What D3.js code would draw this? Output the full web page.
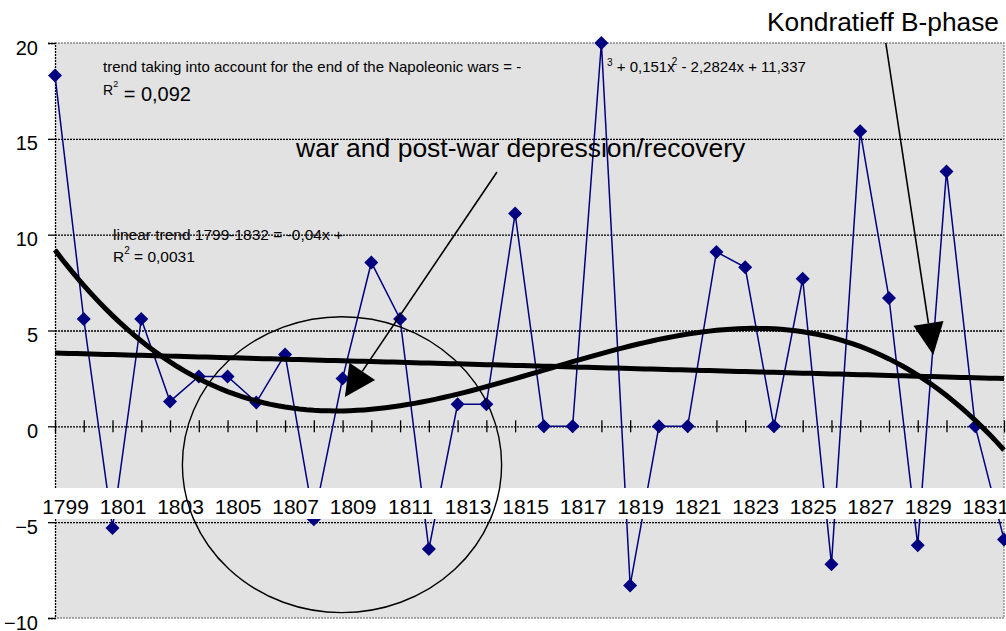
<!DOCTYPE html>
<html>
<head>
<meta charset="utf-8">
<script src="https://cdn.jsdelivr.net/npm/d3@7"></script>
<style>
body { margin: 0; background: #fff; }
svg { display: block; font-family: "Liberation Sans", Arial, sans-serif; }
</style>
</head>
<body>
<svg width="1006" height="631"></svg>
<script>
// data
var years = [1799, 1800, 1801, 1802, 1803, 1804, 1805, 1806, 1807, 1808, 1809, 1810,
             1811, 1812, 1813, 1814, 1815, 1816, 1817, 1818, 1819, 1820, 1821, 1822,
             1823, 1824, 1825, 1826, 1827, 1828, 1829, 1830, 1831, 1832];
var values = [18.3, 5.6, -5.3, 5.6, 1.3, 2.6, 2.6, 1.25, 3.75, -4.85, 2.5, 8.55,
              5.6, -6.4, 1.15, 1.15, 11.1, 0, 0, 20, -8.3, 0, 0, 9.1,
              8.3, 0, 7.7, -7.2, 15.4, 6.7, -6.2, 13.3, 0, -5.9];
var yearLabels = [1799, 1801, 1803, 1805, 1807, 1809, 1811, 1813, 1815,
                  1817, 1819, 1821, 1823, 1825, 1827, 1829, 1831];
var yTicks = [-10, -5, 0, 5, 10, 15, 20];

var svg = d3.select('svg');
var plot = {l: 55, r: 1004, t: 43, b: 618};

var xScale = d3.scaleLinear().domain([1799, 1832]).range([plot.l, plot.r]);
var yScale = d3.scaleLinear().domain([-10, 20]).range([plot.b, plot.t]);

// least squares polynomial, x = 1..n like the spreadsheet trendline
function polyFit(xs, ys, deg) {
	var n = deg + 1;
	var A = [];
	for (var i = 0; i < n; i++) {
		A[i] = [];
		for (var j = 0; j < n; j++) {
			A[i][j] = d3.sum(xs, function(x) { return Math.pow(x, i + j); });
		}
		A[i][n] = d3.sum(xs, function(x, k) { return Math.pow(x, i) * ys[k]; });
	}
	for (var c = 0; c < n; c++) {
		var p = c;
		for (var r = c + 1; r < n; r++) if (Math.abs(A[r][c]) > Math.abs(A[p][c])) p = r;
		var tmp = A[c]; A[c] = A[p]; A[p] = tmp;
		for (var r2 = 0; r2 < n; r2++) {
			if (r2 === c) continue;
			var f = A[r2][c] / A[c][c];
			for (var k = c; k <= n; k++) A[r2][k] -= f * A[c][k];
		}
	}
	var coef = [];
	for (var q = 0; q < n; q++) coef[q] = A[q][n] / A[q][q];
	return function(x) {
		var s = 0;
		for (var m = 0; m < n; m++) s += coef[m] * Math.pow(x, m);
		return s;
	};
}

var idx = years.map(function(d, i) { return i + 1; });
var linFit = polyFit(idx, values, 1);
var cubFit = polyFit(idx, values, 3);

// plot background
svg.append('rect')
	.attr('x', plot.l).attr('y', plot.t)
	.attr('width', plot.r - plot.l).attr('height', plot.b - plot.t)
	.attr('fill', '#e2e2e2');

// gridlines
var grid = svg.append('g')
	.attr('transform', 'translate(' + plot.l + ',0)')
	.call(d3.axisLeft(yScale).tickValues([-5, 0, 5, 10, 15]).tickSize(-(plot.r - plot.l)).tickFormat(''));
grid.select('.domain').remove();
grid.selectAll('line').attr('stroke', '#000').attr('stroke-width', 1.3).attr('stroke-dasharray', '2,1');

// border top / right / bottom
svg.append('path')
	.attr('d', 'M' + plot.l + ',' + plot.t + 'H' + plot.r + 'V' + plot.b + 'H' + plot.l)
	.attr('fill', 'none').attr('stroke', '#8a8a8a').attr('stroke-width', 1.3).attr('stroke-dasharray', '2,1');

// y axis
var yAxis = svg.append('g')
	.attr('transform', 'translate(' + plot.l + ',0)')
	.call(d3.axisLeft(yScale).tickValues(yTicks).tickSize(7).tickPadding(10));
yAxis.select('.domain').attr('stroke', '#000').attr('stroke-width', 1.3).attr('stroke-dasharray', '2,1');
yAxis.selectAll('line').attr('stroke', '#000').attr('stroke-width', 1.3);
yAxis.selectAll('text').attr('font-size', 20).attr('fill', '#000').attr('font-family', null).attr('dy', '0.55em');

// category ticks crossing the zero line
var xTicks = svg.append('g')
	.attr('transform', 'translate(0,' + (yScale(0) - 6) + ')')
	.call(d3.axisBottom(xScale).tickValues(years).tickSize(12).tickFormat(''));
xTicks.select('.domain').remove();
xTicks.selectAll('line').attr('stroke', '#000').attr('stroke-width', 1.3);

// data series
var line = d3.line()
	.x(function(d, i) { return xScale(years[i]); })
	.y(function(d) { return yScale(d); });

svg.append('path')
	.datum(values)
	.attr('d', line)
	.attr('fill', 'none')
	.attr('stroke', '#000080')
	.attr('stroke-width', 1.5);

svg.selectAll('.marker')
	.data(values)
	.enter().append('path')
	.attr('class', 'marker')
	.attr('d', 'M0,-7L7,0L0,7L-7,0Z')
	.attr('transform', function(d, i) { return 'translate(' + xScale(years[i]) + ',' + yScale(d) + ')'; })
	.attr('fill', '#000080');

// trendlines
var steps = d3.range(1, years.length + 0.001, 0.25);

svg.append('path')
	.attr('d', d3.line().x(function(d) { return xScale(1798 + d); }).y(function(d) { return yScale(linFit(d)); })(steps))
	.attr('fill', 'none').attr('stroke', '#000').attr('stroke-width', 5);

svg.append('path')
	.attr('d', d3.line().x(function(d) { return xScale(1798 + d); }).y(function(d) { return yScale(cubFit(d)); })(steps))
	.attr('fill', 'none').attr('stroke', '#000').attr('stroke-width', 5);

// white band behind the year labels
svg.append('rect')
	.attr('x', 50).attr('y', 488).attr('width', 956).attr('height', 31)
	.attr('fill', '#fff');

var xAxis = svg.append('g')
	.attr('transform', 'translate(0,514)')
	.call(d3.axisBottom(xScale).tickValues(yearLabels).tickSize(0).tickFormat(d3.format('d')));
xAxis.select('.domain').remove();
xAxis.selectAll('text')
	.attr('font-size', 21).attr('font-family', null).attr('fill', '#000')
	.attr('y', 0).attr('dy', 0).attr('x', 10);

// annotations
svg.append('ellipse')
	.attr('cx', xScale(1808.98)).attr('cy', yScale(-2.0))
	.attr('rx', xScale(1799 + 5.55) - xScale(1799))
	.attr('ry', yScale(0) - yScale(7.72))
	.attr('fill', 'none').attr('stroke', '#000').attr('stroke-width', 1.4);

function arrow(x1, y1, x2, y2, len, half) {
	var ax = xScale(x1), ay = yScale(y1), bx = xScale(x2), by = yScale(y2);
	var dx = bx - ax, dy = by - ay, L = Math.sqrt(dx * dx + dy * dy);
	var ux = dx / L, uy = dy / L;
	var mx = bx - ux * len, my = by - uy * len;
	svg.append('line')
		.attr('x1', ax).attr('y1', ay).attr('x2', mx).attr('y2', my)
		.attr('stroke', '#000').attr('stroke-width', 1.6);
	svg.append('path')
		.attr('d', 'M' + bx + ',' + by + 'L' + (mx - uy * half) + ',' + (my + ux * half) +
			'L' + (mx + uy * half) + ',' + (my - ux * half) + 'Z')
		.attr('fill', '#000');
}
arrow(1814.37, 13.27, 1809.08, 1.53, 31, 15.5);
arrow(1827.89, 20, 1829.54, 3.72, 32, 15.2);

var t1 = svg.append('text').attr('x', 103).attr('y', 72).attr('font-size', 15).attr('fill', '#000');
t1.text('trend taking into account for the end of the Napoleonic wars = -');

var t2 = svg.append('text').attr('x', 607).attr('y', 72).attr('font-size', 15).attr('fill', '#000');
t2.append('tspan').attr('font-size', 10).attr('dy', -6).text('3');
t2.append('tspan').attr('dy', 6).text(' + 0,151x');
t2.append('tspan').attr('font-size', 10).attr('dy', -7).attr('dx', -3).text('2');
t2.append('tspan').attr('dy', 7).text(' - 2,2824x + 11,337');

var r1 = svg.append('text').attr('x', 103).attr('y', 95).attr('fill', '#000');
r1.append('tspan').attr('font-size', 14).text('R');
r1.append('tspan').attr('font-size', 9).attr('dy', -8).text('2');
r1.append('tspan').attr('font-size', 20).attr('dy', 14).text(' = 0,092');

svg.append('text').attr('x', 113).attr('y', 240).attr('font-size', 15.5).attr('fill', '#000')
	.text('linear trend 1799-1832 = -0,04x +');

var r2 = svg.append('text').attr('x', 113).attr('y', 262).attr('fill', '#000').attr('font-size', 15.5);
r2.append('tspan').text('R');
r2.append('tspan').attr('font-size', 10).attr('dy', -8).text('2');
r2.append('tspan').attr('dy', 8).text(' = 0,0031');

svg.append('text').attr('x', 296).attr('y', 157).attr('font-size', 26.5).attr('fill', '#000')
	.text('war and post-war depression/recovery');

svg.append('text').attr('x', 767).attr('y', 31).attr('font-size', 26.3).attr('fill', '#000')
	.text('Kondratieff B-phase');
</script>
</body>
</html>
